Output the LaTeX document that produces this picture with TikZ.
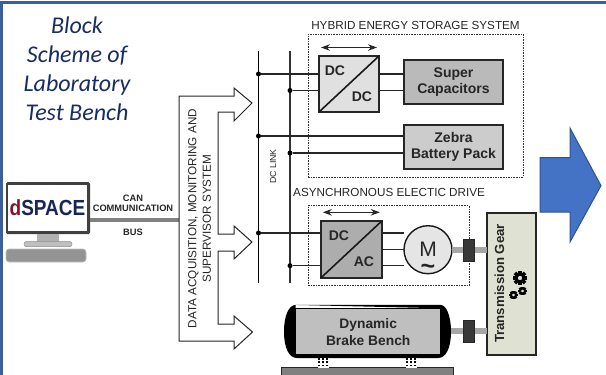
\documentclass[tikz,border=0pt]{standalone}
\usepackage{fontspec}
\setmainfont{Liberation Sans}
\newfontfamily\titlefont{Carlito}
\usetikzlibrary{arrows.meta,positioning}
\definecolor{framecol}{RGB}{58,95,156}
\definecolor{titlecol}{RGB}{24,44,100}
\definecolor{gearcol}{RGB}{223,226,210}
\definecolor{arrowfill}{RGB}{68,114,196}
\definecolor{arrowline}{RGB}{47,82,143}
\definecolor{dsred}{RGB}{130,20,40}
\definecolor{dsblue}{RGB}{22,38,90}
\newcommand{\gearwheel}[3]{%
  \foreach \a in {0,45,...,315}{\draw[line width=#3*0.55pt] (#1,#2) ++(\a:#3*0.65) -- ++(\a:#3*0.45);}
  \draw[line width=#3*0.5pt,fill=gearcol] (#1,#2) circle[radius=#3*0.62];}

\begin{document}
\begin{tikzpicture}[x=1pt,y=-1pt,
    box/.style={rectangle,draw=black!85,line width=1.6pt,outer sep=0pt,align=center,text=black!85,font=\bfseries\fontsize{14}{16.5}\selectfont},
    dashbox/.style={rectangle,draw=black!80,dashed,dash pattern=on 1.6pt off 1pt,line width=0.6pt,outer sep=0pt},
    plain/.style={font=\fontsize{11.7}{14.5}\selectfont,text=black!85,inner sep=0pt,align=center},
    small/.style={font=\bfseries\fontsize{9.3}{11}\selectfont,text=black!85,inner sep=0pt},
    conv/.style={font=\bfseries\fontsize{14}{15}\selectfont,text=black!85,inner sep=0pt},
    busdot/.style={circle,fill=black,inner sep=0pt,minimum size=5pt},
    wire/.style={draw=black!85,line width=1.1pt},
    flow/.style={draw=black!85,line width=1pt,{Stealth[length=9pt,width=6.5pt]}-{Stealth[length=9pt,width=6.5pt]}},
    shaft/.style={draw=black!35,line width=6pt},
    coupling/.style={rectangle,fill=black!78,draw=black!85,line width=0.5pt,minimum width=11pt,minimum height=22pt,outer sep=0pt},
    foot/.style={rectangle,fill=white,inner sep=0pt,minimum width=11pt,minimum height=10pt}]
  \useasboundingbox (0,0) rectangle (606,375);
  \coordinate (fc) at (1.5,375);
  \coordinate (fa) at (1.5,2.5);
  \coordinate (fb) at (606,2.5);
  \draw[framecol,line width=2.2pt] (fc) -- (fa) -- (fb);

  % title
  \node[text=titlecol,font=\titlefont\itshape\fontsize{24}{29}\selectfont,align=center,inner sep=0pt] (title) at (77,69) {Block\\Scheme of\\Laboratory\\Test Bench};

  % dspace station
  \node[rectangle,fill=black!75,rounded corners=1.5pt,minimum width=84pt,minimum height=52pt,outer sep=0pt] (screen) at (48,208) {};
  \node[rectangle,fill=white,minimum width=79pt,minimum height=46pt,inner sep=0pt] (logo) at (47.5,208) {\scalebox{1}[1.15]{\fontsize{19}{20}\selectfont\bfseries\textcolor{dsred}{d}\textcolor{dsblue}{SPACE}}};
  \node[rectangle,fill=black!30,minimum width=22pt,minimum height=8pt,inner sep=0pt,below=0pt of screen] (stand) {};
  \node[rectangle,rounded corners=2pt,fill=black!25,draw=black!45,line width=0.4pt,minimum width=48pt,minimum height=5pt,inner sep=0pt,below=-1pt of stand] (base) {};
  \node[rectangle,rounded corners=3pt,fill=black!42,draw=black!25,line width=0.6pt,minimum width=80pt,minimum height=13pt,inner sep=0pt] (keys) at (46,255.5) {};

  % can bus
  \coordinate (busend) at (179,220);
  \draw[draw=black!50,line width=4pt] (screen.east |- busend) -- (busend);
  \node[small] (can) at (133,198) {CAN};
  \node[small,below=3pt of can] (comm) {COMMUNICATION};
  \node[small] (canbus) at (133,232) {BUS};

  % supervisor arrows
  \draw[black!85,line width=1pt,fill=white] (179,96) -- (234,96) -- (234,88) -- (252,103) -- (234,121) -- (234,112) -- (218,112) -- (218,234)
    -- (234,234) -- (234,226) -- (252,242) -- (234,259) -- (234,251) -- (218,251) -- (218,324) -- (234,324) -- (234,316) -- (252.5,332)
    -- (234,349) -- (234,341) -- (179,341) -- cycle;
  \node[plain,rotate=90] (superv) at (199.5,218.5) {DATA ACQUISITION, MONITORING AND\\SUPERVISOR SYSTEM};

  % dc link
  \coordinate (lt) at (258.5,51);
  \coordinate (lb) at (258.5,283);
  \coordinate (rt) at (290,51);
  \coordinate (rb) at (290,283);
  \draw[black,line width=1.2pt] (lt) -- (lb);
  \draw[black!80,line width=1.2pt] (rt) -- (rb);
  \node[font=\fontsize{8.8}{10}\selectfont,text=black!85,rotate=90,inner sep=0pt] (dclink) at (273,166.5) {DC LINK};
  \node[busdot] (d1) at (lt |- 0,74) {};
  \node[busdot] (d2) at (rt |- 0,90.5) {};
  \node[busdot] (d3) at (lt |- 0,136) {};
  \node[busdot] (d4) at (rt |- 0,153) {};
  \node[busdot] (d5) at (lt |- 0,233) {};
  \node[busdot] (d6) at (rt |- 0,265.7) {};

  % storage
  \node[dashbox,minimum width=215pt,minimum height=143pt] (hess) at (415.5,105.5) {};
  \node[plain,above=4.5pt of hess.north] (hesslab) {HYBRID ENERGY STORAGE SYSTEM};
  \node[box,fill=black!12,minimum width=60pt,minimum height=56pt] (dcdc) at (349,84) {};
  \draw[black!90,line width=1.6pt] (dcdc.south west) -- (dcdc.north east);
  \node[conv] (dca) at (335,71) {DC};
  \node[conv] (dcb) at (362,97) {DC};
  \draw[flow] (dcdc.north west) ++(2,-8.5) coordinate (fa1) (dcdc.north east) ++(-2,-8.5) coordinate (fa2) (fa1) -- (fa2);
  \node[box,fill=black!27,minimum width=99pt,minimum height=44pt] (super) at (453.5,82) {Super\\Capacitors};
  \node[box,fill=black!20,minimum width=99pt,minimum height=44pt,below=21pt of super] (zebra) {Zebra\\Battery Pack};
  \draw[wire] (d1) -- (d1 -| dcdc.west);
  \draw[wire] (d2) -- (d2 -| dcdc.west);
  \draw[wire] (d1 -| dcdc.east) -- (d1 -| super.west);
  \draw[wire] (d2 -| dcdc.east) -- (d2 -| super.west);
  \draw[wire] (d3) -- (d3 -| zebra.west);
  \draw[wire] (d4) -- (d4 -| zebra.west);

  % drive
  \node[dashbox,minimum width=161pt,minimum height=80pt] (drive) at (388.5,245.7) {};
  \node[plain,anchor=west] (drivelab) at (293,192.7) {ASYNCHRONOUS ELECTIC DRIVE};
  \node[box,fill=black!32,minimum width=61pt,minimum height=57pt] (dcac) at (351.3,249.5) {};
  \draw[black!90,line width=1.6pt] (dcac.south west) -- (dcac.north east);
  \node[conv] (dcc) at (339,236) {DC};
  \node[conv] (acc) at (364,262) {AC};
  \draw[flow] (dcac.north west) ++(2,-8.7) coordinate (fa3) (dcac.north east) ++(-2,-8.7) coordinate (fa4) (fa3) -- (fa4);
  \node[circle,draw=black!90,fill=black!10,line width=1.4pt,minimum size=48pt,inner sep=0pt,outer sep=0pt] (motor) at (428,249.7) {};
  \node[font=\fontsize{21}{22}\selectfont,inner sep=0pt,text=black!85] (mlab) at (428,249) {M};
  \node[font=\bfseries\fontsize{25}{25}\selectfont,inner sep=0pt,text=black!85] (tilde) at (428,269.5) {\char`~};
  \draw[wire] (d5) -- (d5 -| dcac.west);
  \draw[wire] (d6) -- (d6 -| dcac.west);
  \draw[wire] (d5 -| dcac.east) -- (d5 -| motor.west);
  \draw[wire] (motor -| dcac.east) -- (motor.west);
  \draw[wire] (d6 -| dcac.east) -- (d6 -| motor.west);

  % gear
  \node[box,fill=gearcol,minimum width=49pt,minimum height=142pt] (gear) at (511.3,283.8) {};
  \node[rotate=90,inner sep=0pt,font=\bfseries\fontsize{13.2}{15}\selectfont,text=black!85] (gearlab) at (499.5,283.5) {Transmission Gear};
  \gearwheel{520}{278}{6.5}
  \gearwheel{522.5}{291}{4}
  \gearwheel{513.5}{295}{4}
  \draw[shaft] (motor.east) -- (motor -| gear.west);
  \node[coupling] (coup1) at (468.5,250) {};

  % brake bench
  \node[rectangle,fill=black!25,draw=black,line width=1pt,minimum width=145pt,minimum height=46.7pt,outer sep=0pt,align=center,font=\bfseries\fontsize{13.8}{17}\selectfont,text=black!85] (brake) at (368.2,331.6) {Dynamic\\Brake Bench};
  \fill[black] (brake.north west) ++(0,-3.3) coordinate (bnw) -- (bnw -| brake.north east) .. controls (446,305) and (451,315) .. (451,331.6) .. controls (451,348) and (446,358) .. (438,358)
    -- (297,358) .. controls (289,358) and (284,348) .. (284,331.6) .. controls (284,315) and (289,305) .. (bnw) -- (brake.north west) -- (brake.south west) -- (brake.south east) -- (brake.north east) -- cycle;
  \coordinate (shaftin) at (gear.west |- 0,331);
  \draw[shaft] (451,331) coordinate (brakeout) -- (shaftin);
  \node[coupling] (coup2) at (468.5,331) {};
  \node[rectangle,fill=black!50,draw=black!85,line width=0.8pt,minimum width=172pt,minimum height=12pt,outer sep=0pt] (bed) at (367.5,373.7) {};
  \node[foot] (foota) at (323.5,362.7) {};
  \node[foot] (footb) at (411.5,362.7) {};
  \foreach \f in {foota,footb}{
    \foreach \i in {0,1,2}{\foreach \j in {0,1,2}{
      \fill[black] (\f.north west) ++(\i*4+0.4,\j*3.4+0.2) rectangle ++(2.2,1.8);}}
  }

  % big arrow
  \draw[fill=arrowfill,draw=arrowline,line width=1pt] (540,157.7) -- (570,157.7) -- (570,128) -- (601,185.7) -- (570,242) -- (570,212) -- (540,212) -- cycle;
\end{tikzpicture}
\end{document}
